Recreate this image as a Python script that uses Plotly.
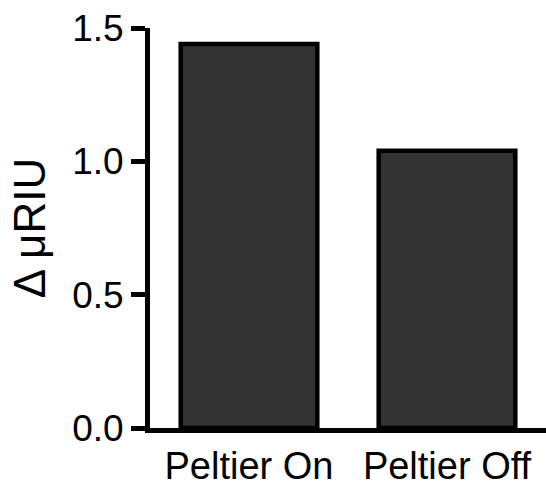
import plotly.graph_objects as go

categories = ["Peltier On", "Peltier Off"]
values = [1.44, 1.04]
y_ticks = [0.0, 0.5, 1.0, 1.5]
y_tick_labels = ["0.0", "0.5", "1.0", "1.5"]

fig = go.Figure(go.Bar(
    x=categories, y=values, width=0.69,
    marker=dict(color="#333333", line=dict(color="black", width=4.5)),
))

font = "Arial, Liberation Sans, sans-serif"
fig.update_layout(
    width=546, height=486,
    margin=dict(l=150, r=0, t=28, b=58),
    plot_bgcolor="white", paper_bgcolor="white",
    showlegend=False,
    font=dict(family=font, color="black", size=38),
    xaxis=dict(
        showline=True, linecolor="black", linewidth=5,
        ticks="", showgrid=False, zeroline=False,
        tickfont=dict(size=38), range=[-0.5, 1.5],
    ),
    yaxis=dict(
        range=[0, 1.5], tickvals=y_ticks, ticktext=y_tick_labels,
        showline=True, linecolor="black", linewidth=5,
        ticks="outside", ticklen=14, tickwidth=5, tickcolor="black",
        showgrid=False, zeroline=False,
        tickfont=dict(size=37),
        title=dict(text="Δ μRIU", font=dict(size=44), standoff=14),
    ),
)

fig.write_html("out.html")
